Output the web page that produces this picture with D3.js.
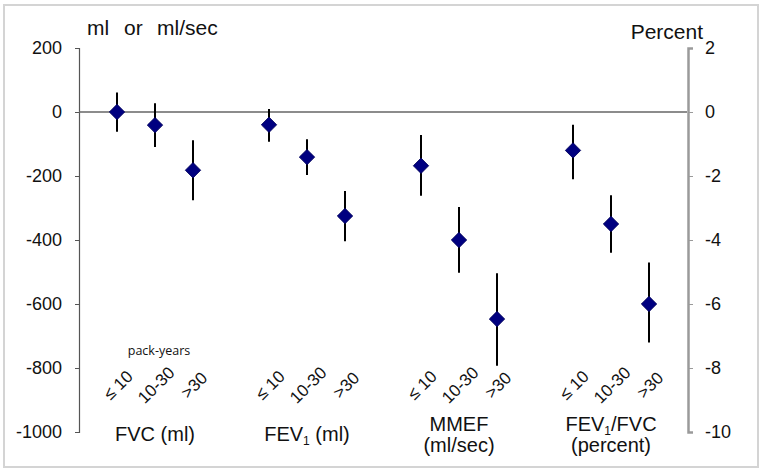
<!DOCTYPE html>
<html>
<head>
<meta charset="utf-8">
<script src="https://cdn.jsdelivr.net/npm/d3@7"></script>
<style>
  body { margin: 0; background: #fff; }
  svg text { font-family: "Liberation Sans", Arial, sans-serif; fill: #111; }
</style>
</head>
<body>
<div id="chart"></div>
<script>
// pack-year categories (x sub-labels)
const packYears = ['\u2264 10', '10-30', '>30'];

// measures, left axis in ml or ml/sec
const fvcMean  = [0, -41, -182];
const fvcLow   = [-62, -109, -276];
const fvcHigh  = [61, 27, -88];

const fev1Mean = [-40, -141, -325];
const fev1Low  = [-93, -197, -404];
const fev1High = [9, -85, -247];

const mmefMean = [-168, -400, -647];
const mmefLow  = [-262, -502, -793];
const mmefHigh = [-72, -297, -504];

// FEV1/FVC, right axis in percent
const ratioMean = [-1.2, -3.5, -6.0];
const ratioLow  = [-2.1, -4.4, -7.2];
const ratioHigh = [-0.4, -2.6, -4.7];

const leftTicks = [200, 0, -200, -400, -600, -800, -1000];
const rightTicks = [2, 0, -2, -4, -6, -8, -10];

const W = 764, H = 473;

const svg = d3.select('#chart')
  .append('svg')
  .attr('width', W)
  .attr('height', H);

// outer frame
svg.append('rect')
  .attr('x', 4).attr('y', 5)
  .attr('width', 754).attr('height', 462)
  .attr('fill', 'none')
  .attr('stroke', '#d4d4d4')
  .attr('stroke-width', 2);

var x = d3.scaleLinear().domain([0, 16]).range([79, 687]);
var yL = d3.scaleLinear().domain([-1000, 200]).range([432, 48]);
var yR = d3.scaleLinear().domain([-10, 2]).range([432, 48]);

// left axis
var leftAxis = d3.axisLeft(yL).tickValues(leftTicks).tickSize(4).tickPadding(13)
  .tickFormat(d => String(d));
var gl = svg.append('g').attr('transform', 'translate(' + x(0) + ',0)').call(leftAxis);
gl.select('.domain').attr('stroke', '#555').attr('stroke-width', 1.2);
gl.selectAll('.tick line').attr('stroke', '#555');
gl.selectAll('.tick text').style('font-size', '18px').attr('fill', '#111');

// right axis
var rightAxis = d3.axisRight(yR).tickValues(rightTicks).tickSize(5).tickPadding(12)
  .tickFormat(d => String(d));
var gr = svg.append('g').attr('transform', 'translate(' + (x(16) + 1) + ',0)').call(rightAxis);
gr.select('.domain').attr('stroke', '#9a9a9a').attr('stroke-width', 2.5);
gr.selectAll('.tick line').attr('stroke', '#9a9a9a');
gr.selectAll('.tick text').style('font-size', '18px').attr('fill', '#111');

// zero line
svg.append('line')
  .attr('x1', x(0)).attr('x2', x(16))
  .attr('y1', yL(0)).attr('y2', yL(0))
  .attr('stroke', '#666').attr('stroke-width', 1.3);

// axis titles
var t1 = svg.append('text').attr('y', 35).style('font-size', '21px');
t1.append('tspan').attr('x', 87).text('ml');
t1.append('tspan').attr('x', 124).text('or');
t1.append('tspan').attr('x', 157).text('ml/sec');

svg.append('text')
  .attr('x', 703).attr('y', 39)
  .attr('text-anchor', 'end')
  .style('font-size', '21px')
  .text('Percent');

// build points
var measures = [
  { mean: fvcMean, low: fvcLow, high: fvcHigh, y: yL },
  { mean: fev1Mean, low: fev1Low, high: fev1High, y: yL },
  { mean: mmefMean, low: mmefLow, high: mmefHigh, y: yL },
  { mean: ratioMean, low: ratioLow, high: ratioHigh, y: yR }
];

var points = [];
measures.forEach(function (m, g) {
  m.mean.forEach(function (v, k) {
    points.push({ pos: g * 4 + k + 1, mean: v, low: m.low[k], high: m.high[k], y: m.y, label: packYears[k] });
  });
});

// error bars
svg.selectAll('line.err')
  .data(points)
  .enter()
  .append('line')
  .attr('class', 'err')
  .attr('x1', d => x(d.pos)).attr('x2', d => x(d.pos))
  .attr('y1', d => d.y(d.high)).attr('y2', d => d.y(d.low))
  .attr('stroke', '#000')
  .attr('stroke-width', 2);

// diamonds
var diamond = d3.symbol().type(d3.symbolSquare).size(118);
svg.selectAll('path.pt')
  .data(points)
  .enter()
  .append('path')
  .attr('class', 'pt')
  .attr('d', diamond)
  .attr('transform', d => 'translate(' + x(d.pos) + ',' + d.y(d.mean) + ') rotate(45)')
  .attr('fill', '#000080')
  .attr('stroke', '#00005a')
  .attr('stroke-width', 0.8);

// rotated pack-year labels
svg.selectAll('text.py')
  .data(points)
  .enter()
  .append('text')
  .attr('class', 'py')
  .attr('text-anchor', 'middle')
  .attr('dy', '0.35em')
  .attr('transform', d => 'translate(' + (x(d.pos) + 1) + ',385) rotate(-45)')
  .style('font-size', '17px')
  .text(d => d.label);

svg.append('text')
  .attr('x', 159).attr('y', 355)
  .attr('text-anchor', 'middle')
  .style('font-family', '"Open Sans", sans-serif')
  .style('font-size', '12.5px')
  .text('pack-years');

// group labels
function groupLabel(cx, y, parts) {
  var t = svg.append('text').attr('x', cx).attr('y', y)
    .attr('text-anchor', 'middle').style('font-size', '20px');
  parts.forEach(function (p) {
    var s = t.append('tspan').text(p[0]);
    if (p[1]) s.attr('dy', 4).style('font-size', '12px');
    else if (p[2]) s.attr('dy', -4);
  });
}

groupLabel(x(2), 441, [['FVC (ml)']]);
groupLabel(x(6), 441, [['FEV'], ['1', true], [' (ml)', false, true]]);
groupLabel(x(10), 431, [['MMEF']]);
groupLabel(x(10), 452, [['(ml/sec)']]);
groupLabel(x(14), 431, [['FEV'], ['1', true], ['/FVC', false, true]]);
groupLabel(x(14), 452, [['(percent)']]);
</script>
</body>
</html>
